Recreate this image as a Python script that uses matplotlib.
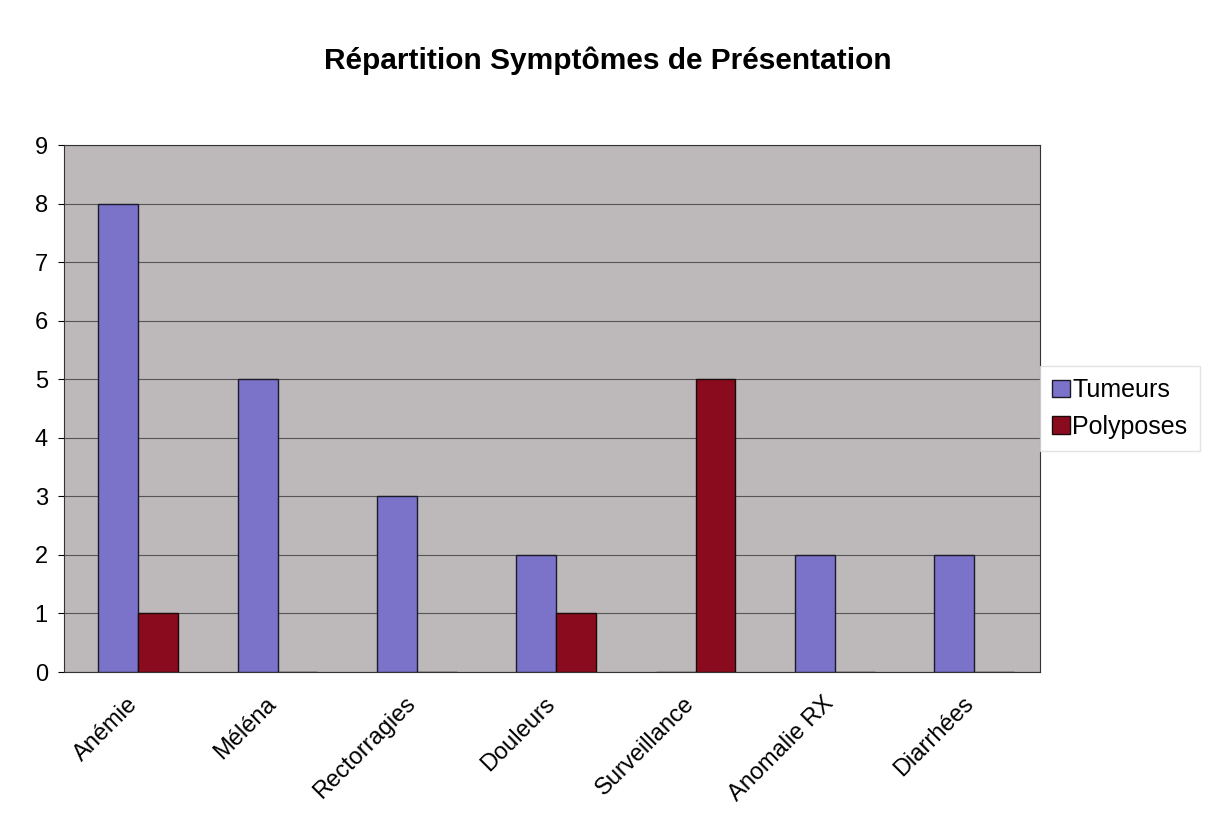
import matplotlib.pyplot as plt
import matplotlib.transforms as mtransforms
import numpy as np

plt.rcParams['font.family'] = ['Liberation Sans', 'DejaVu Sans']

categories = ['Anémie', 'Méléna', 'Rectorragies', 'Douleurs', 'Surveillance', 'Anomalie RX', 'Diarrhées']
tumeurs = [8, 5, 3, 2, 0, 2, 2]
polyposes = [1, 0, 0, 1, 5, 0, 0]

fig = plt.figure(figsize=(12.16, 8.39), dpi=100)
ax = fig.add_axes([0.053, 0.199, 0.802, 0.628])
ax.set_facecolor('#bdb9bb')

x = np.arange(len(categories))
w = 1 / 3.5
ax.bar(x - w / 2 + 0.03, tumeurs, w, color='#7b73c9', edgecolor='#1a1a2a', linewidth=1.0, label='Tumeurs', zorder=3)
ax.bar(x + w / 2 + 0.03, polyposes, w, color='#8a0a1e', edgecolor='#1a0a0a', linewidth=1.0, label='Polyposes', zorder=3)

ax.set_xlim(-0.5, len(categories) - 0.5)
ax.set_ylim(0, 9)
ax.set_yticks(range(10))
ax.yaxis.grid(True, color='#555555', linewidth=0.8, zorder=0)
ax.set_xticks(x)
ax.set_xticklabels(categories, rotation=45, ha='right', rotation_mode='anchor', fontsize=17)
ax.tick_params(axis='x', length=0, pad=15)
ax.tick_params(axis='y', labelsize=17, length=4, pad=8)
# nudge the rotated labels a little to the left, like the original
offset = mtransforms.ScaledTranslation(-8 / 100, 0, fig.dpi_scale_trans)
for lab in ax.get_xticklabels():
    lab.set_transform(lab.get_transform() + offset)
for s in ax.spines.values():
    s.set_color('#333333')
    s.set_linewidth(0.8)

fig.text(0.5, 0.928, 'Répartition Symptômes de Présentation', ha='center', va='center',
         fontsize=21.5, fontweight='bold')

leg = ax.legend(loc='center left', bbox_to_anchor=(1.0, 0.5), fontsize=18, frameon=True,
                fancybox=False, edgecolor='#dddddd', handlelength=0.7, handleheight=0.7,
                handletextpad=0.1, borderpad=0.5, labelspacing=0.5, borderaxespad=0.0)

fig.savefig('out.png', dpi=100)
